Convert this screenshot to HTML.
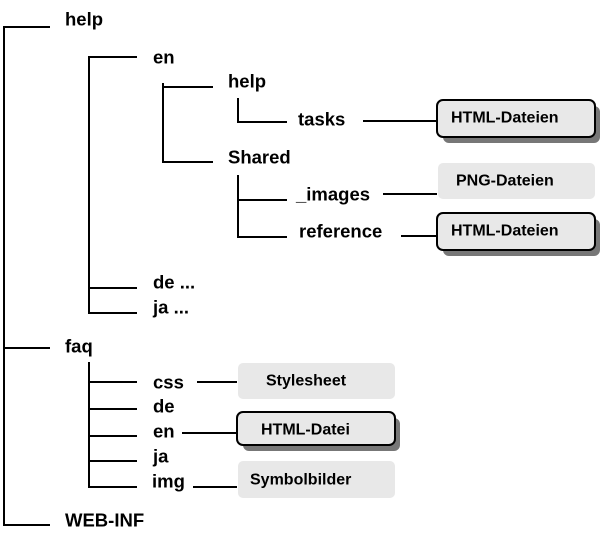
<!DOCTYPE html>
<html><head><meta charset="utf-8"><style>body{margin:0;background:#fff}svg{display:block}</style></head>
<body>
<svg width="603" height="541" xmlns="http://www.w3.org/2000/svg" font-family="Liberation Sans, Arial, sans-serif" font-weight="bold">
<g stroke="#000" stroke-width="2" fill="none">
<path d="M4 27V525M3 27H50M3 348H50M3 525H50"/>
<path d="M89 56V313M88 57H137M88 288H137M88 313H137"/>
<path d="M163 83V163M162 87H213M162 162H213"/>
<path d="M238 98V122M237 122H287M363 121H437"/>
<path d="M238 175V238M237 200H287M237 237H287M383 194H437M401 236H437"/>
<path d="M89 362V487M88 382H137M88 409H137M88 436H137M88 461H137M88 487H137"/>
<path d="M197 382H237M182 433H237M193 487H237"/>
</g>
<g fill="#777">
<rect x="443" y="106" width="157" height="37" rx="6"/>
<rect x="443" y="219" width="157" height="37" rx="6"/>
<rect x="243" y="418" width="157" height="33" rx="6"/>
</g>
<g fill="#e8e8e8">
<rect x="437" y="100" width="158" height="37" rx="6" stroke="#000" stroke-width="2"/>
<rect x="437" y="213" width="158" height="37" rx="6" stroke="#000" stroke-width="2"/>
<rect x="237" y="412" width="158" height="33" rx="6" stroke="#000" stroke-width="2"/>
<rect x="438" y="163" width="157" height="36" rx="5"/>
<rect x="238" y="363" width="157" height="36" rx="5"/>
<rect x="238" y="461" width="157" height="37" rx="5"/>
</g>
<g font-size="18.5" dominant-baseline="central" fill="#000">
<text x="65" y="19">help</text>
<text x="153" y="57">en</text>
<text x="228" y="81">help</text>
<text x="298" y="119">tasks</text>
<text x="228" y="157">Shared</text>
<text x="296" y="194">_images</text>
<text x="299" y="231">reference</text>
<text x="153" y="282">de ...</text>
<text x="153" y="307">ja ...</text>
<text x="65" y="346">faq</text>
<text x="153" y="382">css</text>
<text x="153" y="406">de</text>
<text x="153" y="431">en</text>
<text x="153" y="456">ja</text>
<text x="152" y="481">img</text>
<text x="65" y="520">WEB-INF</text>
</g>
<g font-size="16" dominant-baseline="central" fill="#000">
<text x="451" y="118">HTML-Dateien</text>
<text x="456" y="181">PNG-Dateien</text>
<text x="451" y="231">HTML-Dateien</text>
<text x="266" y="381">Stylesheet</text>
<text x="261" y="430">HTML-Datei</text>
<text x="250" y="480">Symbolbilder</text>
</g>
</svg>
</body></html>
